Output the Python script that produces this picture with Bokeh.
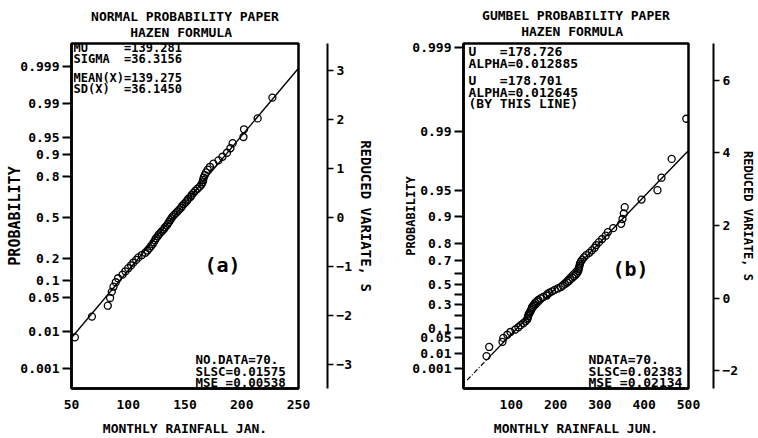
import math
from statistics import NormalDist
from bokeh.plotting import figure
from bokeh.models import (LinearAxis, FixedTicker, Range1d, ColumnDataSource, Label, Title,
                          CustomJSTickFormatter)
from bokeh.layouts import row
from bokeh.embed import file_html
from bokeh.resources import INLINE

FONT = "DejaVu Sans Mono"
NB = "\u00a0"

# ---------------- data ----------------
jan_rain = [53, 68, 82, 84, 85.5, 87, 89, 91, 95, 97.5,
            100, 102.5, 104.5, 107, 109, 112, 115, 117, 118.5, 120,
            121.5, 122.5, 123.5, 124.5, 126, 127, 128.5, 130, 131.5, 132.5,
            134, 135, 136, 137, 138, 139, 140.5, 142, 143.5, 145,
            146.5, 147.5, 149, 150.5, 152, 153, 155, 156, 157.5, 159,
            161, 163, 164.5, 165.5, 166, 166.5, 167.5, 168.5, 170, 172,
            175, 179.5, 183, 187, 190, 192, 201.5, 202, 214, 227]

jun_rain = [44, 50, 80, 82, 91, 98, 109, 116, 121, 127,
            132, 136, 137, 138, 139, 141, 143, 145, 146, 147,
            150, 152, 154, 158, 161, 166, 172, 180, 181, 186,
            192, 198, 205, 212, 216, 221, 226, 230, 233, 238,
            242, 246, 249, 251, 252, 253, 254, 255, 257, 260,
            264, 269, 276, 282, 288, 292, 298, 305, 313, 318,
            330, 348, 351, 354, 356, 394, 430, 439, 462, 495]

normal_mu = 139.281
normal_sigma = 36.3156
gumbel_u = 178.701
gumbel_alpha = 0.012645

normal_prob_ticks = [0.001, 0.01, 0.05, 0.1, 0.2, 0.5, 0.8, 0.9, 0.95, 0.99, 0.999]
normal_prob_labels = ["0.001", "0.01", "0.05", "0.1", "0.2", "0.5", "0.8", "0.9", "0.95", "0.99", "0.999"]
gumbel_prob_ticks = [0.001, 0.01, 0.05, 0.1, 0.2, 0.3, 0.4, 0.5, 0.6, 0.7, 0.8, 0.9, 0.95, 0.99, 0.999]
gumbel_prob_labels = ["0.001", "0.01", "0.05", "0.1", "", "0.3", "", "0.5", "", "0.7", "0.8", "0.9", "0.95", "0.99", "0.999"]
normal_variate_ticks = [-3, -2, -1, 0, 1, 2, 3]
gumbel_variate_ticks = [-2, 0, 2, 4, 6]
jan_x_ticks = [50, 100, 150, 200, 250]
jun_x_ticks = [100, 200, 300, 400, 500]
jan_fit_x = [50, 250]
jun_fit_x_dashed = [0, 55]
jun_fit_x_solid = [55, 500]

left_titles = ["NORMAL PROBABILITY PAPER", "HAZEN FORMULA"]
right_titles = ["GUMBEL PROBABILITY PAPER", "HAZEN FORMULA"]
left_info_top = ["MU     =139.281", "SIGMA  =36.3156"]
left_info_mid = ["MEAN(X)=139.275", "SD(X)  =36.1450"]
left_info_bot = ["NO.DATA=70.", "SLSC=0.01575", "MSE =0.00538"]
right_info_top = ["U   =178.726", "ALPHA=0.012885"]
right_info_mid = ["U   =178.701", "ALPHA=0.012645", "(BY THIS LINE)"]
right_info_bot = ["NDATA=70.", "SLSC=0.02383", "MSE =0.02134"]

# ---------------- helpers ----------------
nd = NormalDist()


def hazen(n):
    return [(i - 0.5) / n for i in range(1, n + 1)]


def normal_variate(p):
    return nd.inv_cdf(p)


def gumbel_variate(p):
    return -math.log(-math.log(p))


def fit_normal(x):
    return (x - normal_mu) / normal_sigma


def fit_gumbel(x):
    return gumbel_alpha * (x - gumbel_u)


def centred_lines(lines):
    # monospace font: pad shorter lines with leading no-break spaces to centre them
    w = max(len(s) for s in lines)
    return "\n".join(NB * ((w - len(s)) // 2) + s.replace(" ", NB) for s in lines)


def prob_formatter(tick_pos, labels):
    return CustomJSTickFormatter(args=dict(ty=list(tick_pos), lb=list(labels)), code="""
        let best = 0;
        for (let i = 0; i < ty.length; i++) {
            if (Math.abs(ty[i] - tick) < Math.abs(ty[best] - tick)) best = i;
        }
        return lb[best];
    """)


def style_axis(ax, size="13px"):
    ax.major_label_text_font = FONT
    ax.major_label_text_font_size = size
    ax.major_label_text_font_style = "bold"
    ax.major_label_text_color = "black"
    ax.axis_label_text_font = FONT
    ax.axis_label_text_font_style = "bold"
    ax.axis_label_text_color = "black"
    ax.minor_tick_line_color = None
    ax.minor_tick_out = 0
    ax.minor_tick_in = 0
    ax.axis_line_color = "black"
    ax.major_tick_line_color = "black"
    ax.major_tick_in = 0


def text_label(p, x, y, t, size, align="left", style="bold"):
    p.add_layout(Label(x=x, y=y, x_units="screen", y_units="screen",
                       text=t.replace(" ", NB), text_font=FONT, text_font_size=size,
                       text_font_style=style, text_color="black",
                       text_align=align, text_baseline="middle"))


def make_panel(width, height, xr, yr, borders, titles, title_standoff, rain, variate,
               prob_ticks, prob_labels, var_ticks, x_ticks, xlabel, spacer_w,
               prob_label_size, prob_label_standoff, var_label_size, var_label_standoff,
               infos, tag, tag_pos):
    left, right, top, bottom = borders
    p = figure(width=width, height=height, x_range=Range1d(*xr), y_range=Range1d(*yr),
               output_backend="svg", toolbar_location=None, title=None,
               min_border_left=left, min_border_right=right,
               min_border_top=top, min_border_bottom=bottom)
    p.grid.visible = False
    p.outline_line_color = "black"
    p.outline_line_width = 2.5
    p.background_fill_color = "white"
    p.border_fill_color = "white"

    # two-line heading centred over the frame
    p.add_layout(Title(text=centred_lines(titles), align="center", text_font=FONT,
                       text_font_size="13px", text_font_style="bold", text_color="black",
                       text_line_height=1.1, standoff=title_standoff), "above")

    # left probability axis
    yl = p.yaxis[0]
    style_axis(yl)
    yl.ticker = FixedTicker(ticks=[variate(q) for q in prob_ticks])
    yl.formatter = prob_formatter([variate(q) for q in prob_ticks], prob_labels)
    yl.major_tick_out = 9
    yl.major_tick_line_width = 2
    yl.axis_line_width = 2.5
    yl.major_label_standoff = 3
    yl.axis_label = "PROBABILITY"
    yl.axis_label_text_font_size = prob_label_size
    yl.axis_label_standoff = prob_label_standoff

    # bottom axis
    xb = p.xaxis[0]
    style_axis(xb)
    xb.ticker = FixedTicker(ticks=x_ticks)
    xb.major_tick_out = 0
    xb.major_tick_line_color = None
    xb.axis_line_width = 2.5
    xb.major_label_standoff = 11
    xb.axis_label = xlabel
    xb.axis_label_text_font_size = "13px"
    xb.axis_label_standoff = 9

    # invisible spacer axis, then the reduced-variate axis on the right
    spacer = LinearAxis(ticker=FixedTicker(ticks=[0]),
                        formatter=CustomJSTickFormatter(code="return ''"),
                        axis_line_color=None, major_tick_line_color=None,
                        minor_tick_line_color=None, major_tick_out=spacer_w, major_tick_in=0,
                        minor_tick_out=0, minor_tick_in=0, major_label_standoff=0,
                        major_label_text_font_size="1px")
    p.add_layout(spacer, "right")
    vax = LinearAxis(ticker=FixedTicker(ticks=var_ticks), axis_label="REDUCED VARIATE, S")
    style_axis(vax)
    vax.axis_line_width = 2
    vax.major_tick_out = 6
    vax.major_tick_line_width = 1.5
    vax.major_label_standoff = 3
    vax.axis_label_standoff = var_label_standoff
    vax.axis_label_text_font_size = var_label_size
    p.add_layout(vax, "right")

    # data points (Hazen plotting positions)
    n = len(rain)
    src = ColumnDataSource(dict(x=sorted(rain), y=[variate(q) for q in hazen(n)]))
    p.scatter("x", "y", source=src, marker="circle", size=7, fill_color=None,
              line_color="black", line_width=1.3)

    # info texts
    for lines, x0, y0, fsize in infos:
        for k, t in enumerate(lines):
            text_label(p, x0, y0 - k * 11.5, t, fsize)
    text_label(p, tag_pos[0], tag_pos[1], tag, "20px", align="center")
    return p


# ---------------- left panel: normal ----------------
p1 = make_panel(
    380, 438, (50, 250), (-3.495, 3.556), (71, 82, 41, 48),
    left_titles, 7, jan_rain, normal_variate,
    normal_prob_ticks, normal_prob_labels, normal_variate_ticks, jan_x_ticks,
    "MONTHLY RAINFALL JAN.", 29, "15px", -7, "14px", 3,
    [(left_info_top, 2, 341, "12px"), (left_info_mid, 2, 311, "12px"),
     (left_info_bot, 124, 29, "12.5px")],
    "(a)", (151, 124))
src1 = ColumnDataSource(dict(x=jan_fit_x, y=[fit_normal(v) for v in jan_fit_x]))
p1.line("x", "y", source=src1, line_color="black", line_width=1.4)

# ---------------- right panel: Gumbel ----------------
p2 = make_panel(
    378, 438, (-8, 500), (-2.49, 7.01), (83, 70, 43, 48),
    right_titles, 9, jun_rain, gumbel_variate,
    gumbel_prob_ticks, gumbel_prob_labels, gumbel_variate_ticks, jun_x_ticks,
    "MONTHLY RAINFALL JUN.", 25, "12px", -9, "12px", 0,
    [(right_info_top, 5, 337, "13px"), (right_info_mid, 5, 308, "13px"),
     (right_info_bot, 125, 29, "13px")],
    "(b)", (167, 120))
src2a = ColumnDataSource(dict(x=jun_fit_x_dashed, y=[fit_gumbel(v) for v in jun_fit_x_dashed]))
src2b = ColumnDataSource(dict(x=jun_fit_x_solid, y=[fit_gumbel(v) for v in jun_fit_x_solid]))
p2.line("x", "y", source=src2a, line_color="black", line_width=1.2, line_dash="5 2 1 2")
p2.line("x", "y", source=src2b, line_color="black", line_width=1.4)

layout = row(p1, p2)
open("out.html", "w").write(file_html(layout, INLINE))
